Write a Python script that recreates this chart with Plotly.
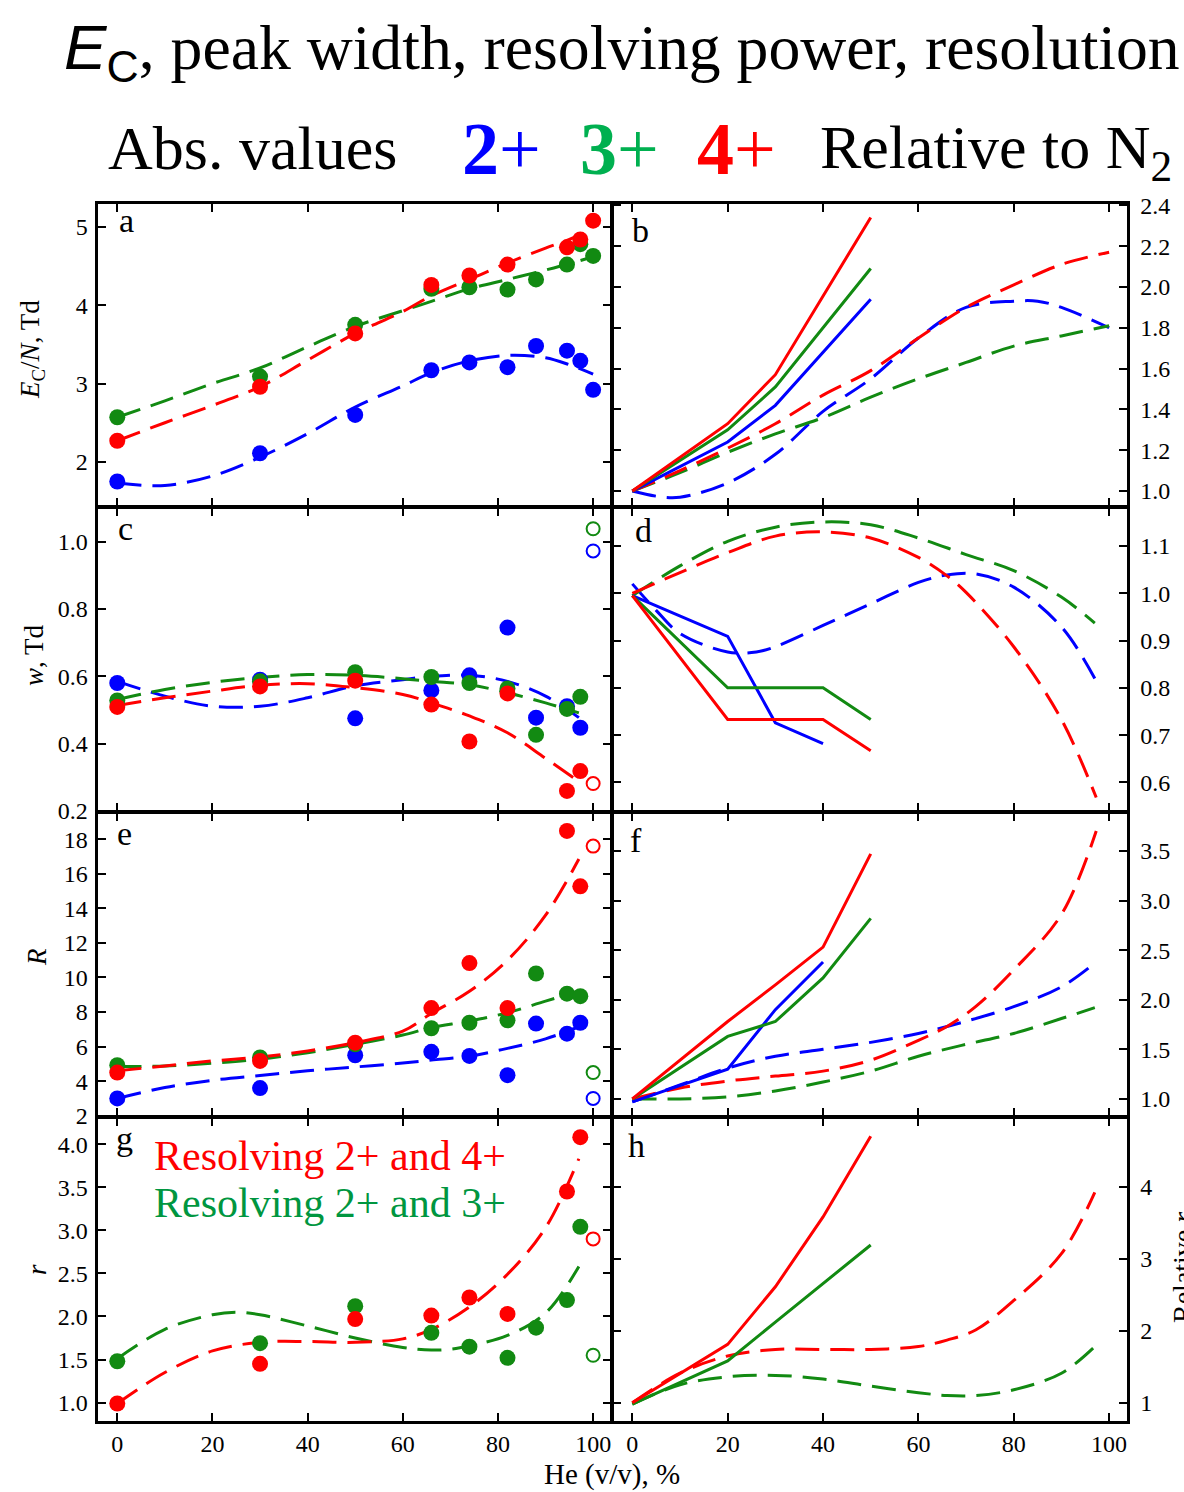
import plotly.graph_objects as go

W, H = 1184, 1492
BLUE = "#0000ff"
GREEN = "#128a12"
RED = "#ff0000"
FONT = "Liberation Serif"

# ---------------- data ----------------
# panel a : E_C/N (Td)
a_he_23 = [0, 30, 50, 66, 74, 82, 88, 94.5, 97.3, 100]
a_ec_2 = [1.75, 2.11, 2.60, 3.17, 3.27, 3.21, 3.48, 3.42, 3.29, 2.92]
a_ec_3 = [2.57, 3.09, 3.75, 4.21, 4.23, 4.20, 4.33, 4.52, 4.78, 4.63]
a_he_4 = [0, 30, 50, 66, 74, 82, 94.5, 97.3, 100]
a_ec_4 = [2.27, 2.96, 3.64, 4.26, 4.38, 4.52, 4.74, 4.84, 5.08]
a_fit_x = [0, 10, 20, 30, 40, 50, 60, 66, 74, 82, 90, 95, 100]
a_fit_2 = [1.73, 1.70, 1.82, 2.06, 2.36, 2.70, 2.97, 3.14, 3.29, 3.36, 3.33, 3.24, 3.12]
a_fit_3 = [2.57, 2.78, 3.00, 3.20, 3.47, 3.73, 3.93, 4.05, 4.21, 4.33, 4.45, 4.53, 4.62]
a_fit_x4 = [0, 10, 20, 30, 40, 50, 60, 66, 74, 82, 90, 95, 98]
a_fit_4 = [2.27, 2.50, 2.72, 2.96, 3.30, 3.64, 3.92, 4.12, 4.33, 4.54, 4.73, 4.84, 4.92]

# panel b : relative E_C/N
b_sol_x = [0, 20, 30, 50]
b_sol_2 = [1.0, 1.24, 1.42, 1.94]
b_sol_3 = [1.0, 1.30, 1.51, 2.09]
b_sol_4 = [1.0, 1.33, 1.57, 2.34]
b_fit_x = [0, 10, 20, 30, 40, 50, 60, 70, 80, 90, 100]
b_fit_4 = [1.0, 1.10, 1.21, 1.33, 1.47, 1.59, 1.75, 1.90, 2.01, 2.11, 2.17]
b_fit_3 = [1.0, 1.09, 1.19, 1.28, 1.36, 1.46, 1.55, 1.63, 1.71, 1.76, 1.81]
b_fit_x2 = [0, 5, 10, 20, 30, 40, 50, 60, 70, 80, 85, 90, 100]
b_fit_2 = [1.0, 0.975, 0.97, 1.04, 1.18, 1.39, 1.55, 1.75, 1.90, 1.93, 1.93, 1.90, 1.80]

# panel c : peak width w (Td)
c_he_23 = [0, 30, 50, 66, 74, 82, 88, 94.5, 97.3]
c_w_2 = [0.580, 0.590, 0.475, 0.558, 0.603, 0.745, 0.477, 0.511, 0.447]
c_w_3 = [0.528, 0.585, 0.612, 0.598, 0.580, 0.564, 0.426, 0.503, 0.539]
c_he_4 = [0, 30, 50, 66, 74, 82, 94.5, 97.3]
c_w_4 = [0.509, 0.570, 0.587, 0.516, 0.406, 0.549, 0.259, 0.318]
c_open_x = [100]
c_open_2 = [0.973]
c_open_3 = [1.039]
c_open_4 = [0.281]
c_fit_x = [0, 10, 20, 30, 40, 50, 60, 66, 74, 82, 90, 97]
c_fit_2 = [0.585, 0.541, 0.511, 0.511, 0.536, 0.572, 0.590, 0.600, 0.603, 0.585, 0.541, 0.477]
c_fit_3 = [0.531, 0.561, 0.582, 0.597, 0.605, 0.603, 0.593, 0.585, 0.575, 0.551, 0.521, 0.491]
c_fit_4 = [0.513, 0.536, 0.556, 0.573, 0.578, 0.566, 0.546, 0.521, 0.482, 0.432, 0.356, 0.287]

# panel d : relative w
d_sol_x2 = [0, 20, 30, 40]
d_sol_2 = [0.995, 0.909, 0.726, 0.682]
d_sol_x = [0, 20, 40, 50]
d_sol_3 = [0.995, 0.800, 0.800, 0.733]
d_sol_4 = [0.995, 0.733, 0.733, 0.667]
d_fit_x3 = [0, 10, 20, 30, 40, 50, 60, 70, 80, 90, 97]
d_fit_3 = [0.995, 1.058, 1.110, 1.140, 1.151, 1.145, 1.117, 1.082, 1.048, 0.992, 0.937]
d_fit_x4 = [0, 10, 20, 30, 40, 50, 60, 66, 70, 80, 90, 97.3]
d_fit_4 = [1.0, 1.044, 1.086, 1.121, 1.130, 1.117, 1.076, 1.037, 1.002, 0.887, 0.733, 0.568]
d_fit_x2 = [0, 5, 10, 20, 26, 30, 40, 50, 60, 66, 72, 80, 90, 97]
d_fit_2 = [1.02, 0.964, 0.915, 0.876, 0.876, 0.887, 0.932, 0.978, 1.023, 1.039, 1.041, 1.013, 0.929, 0.82]

# panel e : resolving power R
e_he_23 = [0, 30, 50, 66, 74, 82, 88, 94.5, 97.3]
e_R_2 = [3.0, 3.6, 5.5, 5.7, 5.46, 4.35, 7.33, 6.75, 7.38]
e_R_3 = [4.92, 5.37, 6.13, 7.06, 7.38, 7.52, 10.23, 9.06, 8.92]
e_he_4 = [0, 30, 50, 66, 74, 82, 94.5, 97.3]
e_R_4 = [4.5, 5.17, 6.23, 8.23, 10.83, 8.23, 18.48, 15.27]
e_open_x = [100]
e_open_2 = [3.0]
e_open_3 = [4.5]
e_open_4 = [17.6]
e_fit_x = [0, 10, 20, 30, 40, 50, 60, 66, 74, 82, 90, 97]
e_fit_2 = [3.0, 3.63, 4.05, 4.33, 4.6, 4.82, 5.05, 5.22, 5.45, 5.9, 6.45, 7.15]
e_fit_3 = [4.85, 4.88, 5.04, 5.27, 5.65, 6.13, 6.67, 7.1, 7.48, 7.96, 8.63, 9.2]
e_fit_4 = [4.6, 4.88, 5.17, 5.4, 5.75, 6.23, 6.9, 7.92, 9.2, 11.0, 13.6, 16.85]

# panel f : relative R
f_sol_x = [0, 20, 30, 40, 50]
f_sol_4 = [1.0, 1.78, 2.15, 2.53, 3.47]
f_sol_3 = [1.0, 1.63, 1.78, 2.22, 2.82]
f_sol_x2 = [0, 20, 30, 40]
f_sol_2 = [0.97, 1.30, 1.90, 2.38]
f_fit_x2 = [0, 10, 20, 30, 40, 50, 60, 66, 80, 90, 97]
f_fit_2 = [0.97, 1.14, 1.31, 1.43, 1.50, 1.57, 1.66, 1.73, 1.93, 2.13, 2.37]
f_fit_x4 = [0, 10, 20, 30, 40, 50, 60, 66, 72, 80, 90, 97.3]
f_fit_4 = [1.0, 1.11, 1.18, 1.23, 1.28, 1.39, 1.59, 1.73, 1.93, 2.30, 2.86, 3.70]
f_fit_x3 = [0, 10, 20, 30, 40, 50, 60, 70, 80, 90, 97]
f_fit_3 = [1.0, 1.0, 1.02, 1.08, 1.17, 1.28, 1.43, 1.55, 1.66, 1.81, 1.92]

# panel g : resolution r
g_he_4 = [0, 30, 50, 66, 74, 82, 94.5, 97.3]
g_r_4 = [0.99, 1.45, 1.97, 2.01, 2.22, 2.03, 3.45, 4.08]
g_he_3 = [0, 30, 50, 66, 74, 82, 88, 94.5, 97.3]
g_r_3 = [1.48, 1.69, 2.12, 1.81, 1.65, 1.52, 1.87, 2.19, 3.04]
g_open_x = [100]
g_open_4 = [2.90]
g_open_3 = [1.55]
g_fit_x3 = [0, 10, 20, 25, 30, 40, 50, 60, 66, 70, 74, 82, 90, 97]
g_fit_3 = [1.51, 1.85, 2.02, 2.05, 2.02, 1.89, 1.75, 1.64, 1.61, 1.62, 1.66, 1.78, 2.04, 2.58]
g_fit_x4 = [0, 10, 20, 30, 40, 50, 60, 66, 74, 82, 90, 97]
g_fit_4 = [0.99, 1.35, 1.60, 1.70, 1.71, 1.70, 1.74, 1.85, 2.11, 2.49, 3.03, 3.83]

# panel h : relative r
h_sol_x = [0, 20, 30, 40, 50]
h_sol_4 = [1.0, 1.81, 2.61, 3.58, 4.70]
h_sol_3 = [0.98, 1.58, 2.12, 2.65, 3.19]
h_fit_x = [0, 10, 20, 30, 40, 50, 60, 66, 72, 80, 90, 97]
h_fit_4 = [1.0, 1.41, 1.65, 1.74, 1.74, 1.74, 1.78, 1.87, 2.01, 2.42, 3.07, 3.92]
h_fit_3 = [0.98, 1.25, 1.36, 1.38, 1.33, 1.23, 1.14, 1.10, 1.10, 1.18, 1.41, 1.78]

# axis ticks
x_ticks = [0, 20, 40, 60, 80, 100]
y_ticks = [
    [2, 3, 4, 5],
    [1.0, 1.2, 1.4, 1.6, 1.8, 2.0, 2.2, 2.4],
    [0.2, 0.4, 0.6, 0.8, 1.0],
    [0.6, 0.7, 0.8, 0.9, 1.0, 1.1],
    [2, 4, 6, 8, 10, 12, 14, 16, 18],
    [1.0, 1.5, 2.0, 2.5, 3.0, 3.5],
    [1.0, 1.5, 2.0, 2.5, 3.0, 3.5, 4.0],
    [1, 2, 3, 4],
]
y_fmt = ["{:.0f}", "{:.1f}", "{:.1f}", "{:.1f}", "{:.0f}", "{:.1f}", "{:.1f}", "{:.0f}"]
y_ranges = [[1.44, 5.29], [0.928, 2.405], [0.2, 1.10], [0.54, 1.18],
            [2, 19.5], [0.83, 3.88], [0.79, 4.3], [0.75, 4.95]]

# ---------------- figure ----------------
fig = go.Figure()
DASH = "24px,11px"
LW = 3


def ax(k):
    return ("x" if k == 1 else f"x{k}"), ("y" if k == 1 else f"y{k}")


def dashed(k, x, y, c):
    xa, ya = ax(k)
    fig.add_trace(go.Scatter(x=x, y=y, mode="lines", xaxis=xa, yaxis=ya,
                             line=dict(color=c, width=LW, dash=DASH, shape="spline"),
                             hoverinfo="skip", showlegend=False))


def solid(k, x, y, c):
    xa, ya = ax(k)
    fig.add_trace(go.Scatter(x=x, y=y, mode="lines", xaxis=xa, yaxis=ya,
                             line=dict(color=c, width=LW), hoverinfo="skip", showlegend=False))


def dots(k, x, y, c):
    xa, ya = ax(k)
    fig.add_trace(go.Scatter(x=x, y=y, mode="markers", xaxis=xa, yaxis=ya,
                             marker=dict(color=c, size=16, line=dict(width=0)),
                             hoverinfo="skip", showlegend=False))


def opens(k, x, y, c):
    xa, ya = ax(k)
    fig.add_trace(go.Scatter(x=x, y=y, mode="markers", xaxis=xa, yaxis=ya,
                             marker=dict(color=c, size=13, symbol="circle-open", line=dict(width=2, color=c)),
                             hoverinfo="skip", showlegend=False))


# a
dashed(1, a_fit_x, a_fit_2, BLUE)
dashed(1, a_fit_x, a_fit_3, GREEN)
dashed(1, a_fit_x4, a_fit_4, RED)
dots(1, a_he_23, a_ec_2, BLUE)
dots(1, a_he_23, a_ec_3, GREEN)
dots(1, a_he_4, a_ec_4, RED)
# b
dashed(2, b_fit_x2, b_fit_2, BLUE)
dashed(2, b_fit_x, b_fit_3, GREEN)
dashed(2, b_fit_x, b_fit_4, RED)
solid(2, b_sol_x, b_sol_2, BLUE)
solid(2, b_sol_x, b_sol_3, GREEN)
solid(2, b_sol_x, b_sol_4, RED)
# c
dashed(3, c_fit_x, c_fit_2, BLUE)
dashed(3, c_fit_x, c_fit_3, GREEN)
dashed(3, c_fit_x, c_fit_4, RED)
dots(3, c_he_23, c_w_2, BLUE)
dots(3, c_he_23, c_w_3, GREEN)
dots(3, c_he_4, c_w_4, RED)
opens(3, c_open_x, c_open_2, BLUE)
opens(3, c_open_x, c_open_3, GREEN)
opens(3, c_open_x, c_open_4, RED)
# d
dashed(4, d_fit_x2, d_fit_2, BLUE)
dashed(4, d_fit_x3, d_fit_3, GREEN)
dashed(4, d_fit_x4, d_fit_4, RED)
solid(4, d_sol_x2, d_sol_2, BLUE)
solid(4, d_sol_x, d_sol_3, GREEN)
solid(4, d_sol_x, d_sol_4, RED)
# e
dashed(5, e_fit_x, e_fit_2, BLUE)
dashed(5, e_fit_x, e_fit_3, GREEN)
dashed(5, e_fit_x, e_fit_4, RED)
dots(5, e_he_23, e_R_2, BLUE)
dots(5, e_he_23, e_R_3, GREEN)
dots(5, e_he_4, e_R_4, RED)
opens(5, e_open_x, e_open_2, BLUE)
opens(5, e_open_x, e_open_3, GREEN)
opens(5, e_open_x, e_open_4, RED)
# f
dashed(6, f_fit_x2, f_fit_2, BLUE)
dashed(6, f_fit_x3, f_fit_3, GREEN)
dashed(6, f_fit_x4, f_fit_4, RED)
solid(6, f_sol_x2, f_sol_2, BLUE)
solid(6, f_sol_x, f_sol_3, GREEN)
solid(6, f_sol_x, f_sol_4, RED)
# g
dashed(7, g_fit_x3, g_fit_3, GREEN)
dashed(7, g_fit_x4, g_fit_4, RED)
dots(7, g_he_3, g_r_3, GREEN)
dots(7, g_he_4, g_r_4, RED)
opens(7, g_open_x, g_open_4, RED)
opens(7, g_open_x, g_open_3, GREEN)
# h
dashed(8, h_fit_x, h_fit_3, GREEN)
dashed(8, h_fit_x, h_fit_4, RED)
solid(8, h_sol_x, h_sol_3, GREEN)
solid(8, h_sol_x, h_sol_4, RED)

# ---------------- axes ----------------
AXW = 2.5
HALF = AXW / 2
col_px = [[97 + HALF, 612 - HALF], [612 + HALF, 1128 - HALF]]
row_edges = [203, 507, 812, 1117, 1422]
tickfont = dict(family=FONT, size=24, color="black")
layout = {}
for k in range(1, 9):
    r, c = (k - 1) // 2, (k - 1) % 2
    s = "" if k == 1 else str(k)
    top = row_edges[r] + HALF
    bot = row_edges[r + 1] - HALF
    layout["xaxis" + s] = dict(
        domain=[col_px[c][0] / W, col_px[c][1] / W], anchor="y" + s,
        range=[-4, 103.7], tickvals=x_ticks, ticktext=[str(v) for v in x_ticks],
        ticks="inside", ticklen=8, tickwidth=2, tickcolor="black",
        showline=True, linewidth=AXW, linecolor="black", mirror="ticks",
        showgrid=False, zeroline=False, showticklabels=(r == 3), tickfont=tickfont,
        automargin=False)
    layout["yaxis" + s] = dict(
        domain=[1 - bot / H, 1 - top / H], anchor="x" + s,
        range=y_ranges[k - 1], tickvals=y_ticks[k - 1],
        ticktext=[y_fmt[k - 1].format(v) for v in y_ticks[k - 1]],
        side="left" if c == 0 else "right",
        ticklabelstandoff=3 if c == 0 else 6,
        ticks="inside", ticklen=8, tickwidth=2, tickcolor="black",
        showline=True, linewidth=AXW, linecolor="black", mirror="ticks",
        showgrid=False, zeroline=False, tickfont=tickfont, automargin=False)


# ---------------- text ----------------
def ann(text, x, y, size, color="black", xanchor="center", angle=0):
    return dict(text=text, x=x / W, y=1 - y / H, xref="paper", yref="paper",
                xanchor=xanchor, yanchor="middle", showarrow=False, textangle=angle,
                font=dict(family=FONT, size=size, color=color))


SANS = '<span style="font-family:Liberation Sans, Arial">'
anns = [
    ann(SANS + "<i>E</i><sub>C</sub></span>, peak width, resolving power, resolution", 62, 51, 63.7, xanchor="left"),
    ann("Abs. values", 106, 148, 62, xanchor="left"),
    ann("<b>2</b>+", 460, 149, 74, BLUE, xanchor="left"),
    ann("<b>3</b>+", 578, 149, 74, "#00b050", xanchor="left"),
    ann("<b>4</b>+", 695, 149, 74, RED, xanchor="left"),
    ann("Relative to N<sub>2</sub>", 818, 152, 62, xanchor="left"),
    ann("<i>E</i><sub>C</sub>/<i>N</i>, Td", 32, 350, 27, angle=-90),
    ann("<i>w</i>, Td", 34, 655, 27, angle=-90),
    ann("<i>R</i>", 37, 957, 27, angle=-90),
    ann("<i>r</i>", 37, 1270, 27, angle=-90),
    ann("Relative <i>r</i>", 1182, 1268, 28, angle=-90),
    ann("He (v/v), %", 612, 1474, 29),
    ann("a", 126, 221, 34), ann("b", 640, 230, 34),
    ann("c", 125, 528, 34), ann("d", 643, 531, 34),
    ann("e", 124, 833, 34), ann("f", 636, 840, 34),
    ann("g", 124, 1138, 34), ann("h", 636, 1145, 34),
    ann("Resolving 2+ and 4+", 152, 1156, 42, RED, xanchor="left"),
    ann("Resolving 2+ and 3+", 152, 1203, 42, "#009640", xanchor="left"),
]

fig.update_layout(width=W, height=H, margin=dict(l=0, r=0, t=0, b=0, pad=0, autoexpand=False),
                  paper_bgcolor="white", plot_bgcolor="white",
                  showlegend=False, annotations=anns, **layout)

fig.write_html("out.html")
